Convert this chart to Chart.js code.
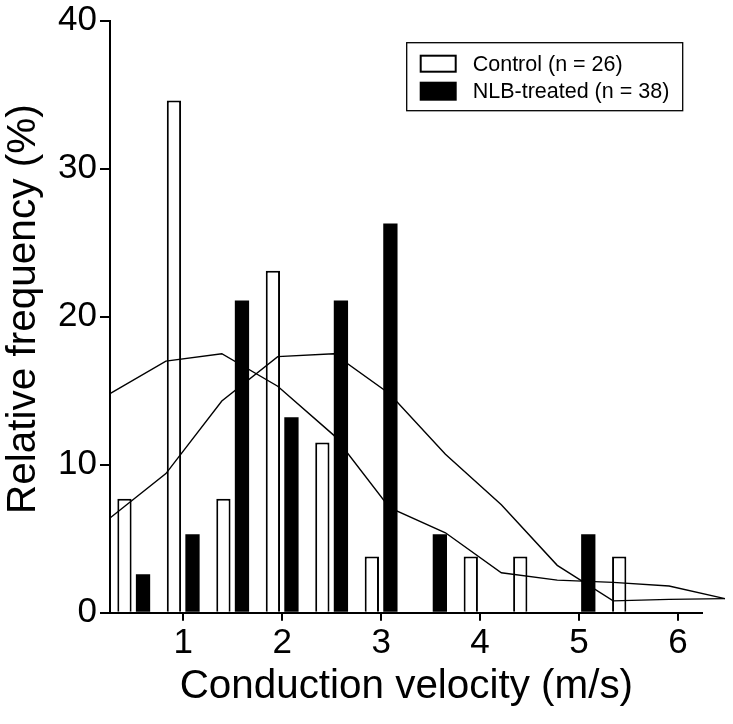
<!DOCTYPE html>
<html lang="en">
<head>
<meta charset="UTF-8">
<title>Conduction velocity distribution</title>
<script src="https://cdn.jsdelivr.net/npm/chart.js"></script>
<style>
  html, body { margin: 0; padding: 0; background: #fff; }
</style>
</head>
<body>
<canvas id="cvChart" width="733" height="724"></canvas>
<script>
// histogram bins (m/s, 0.5 m/s wide) and relative frequency (%)
const controlBins = [0.5, 1.0, 1.5, 2.0, 2.5, 3.0, 4.0, 4.5, 5.5];
const controlFreq = [7.7, 34.6, 7.7, 23.1, 11.5, 3.8, 3.8, 3.8, 3.8];
const nlbBins = [0.5, 1.0, 1.5, 2.0, 2.5, 3.0, 3.5, 5.0];
const nlbFreq = [2.6, 5.3, 21.1, 13.2, 21.1, 26.3, 5.3, 5.3];

// fitted curves
const curveX = [0.26, 0.825, 1.39, 1.955, 2.52, 3.085, 3.65, 4.215, 4.78, 5.345, 5.91, 6.475];
const controlCurve = [14.8, 17.0, 17.5, 15.3, 12.0, 7.1, 5.4, 2.7, 2.2, 2.05, 1.8, 0.95];
const nlbCurve = [6.4, 9.4, 14.3, 17.3, 17.5, 14.8, 10.7, 7.3, 3.2, 0.8, 0.9, 0.95];

const xTicks = [1, 2, 3, 4, 5, 6];
const yTicks = [0, 10, 20, 30, 40];

const labels = ['Control (n = 26)', 'NLB-treated (n = 38)'];
const xTitle = 'Conduction velocity (m/s)';
const yTitle = 'Relative frequency (%)';

const FONT = '"Liberation Sans", Arial, sans-serif';

const pts = (xs, ys) => xs.map((x, i) => ({ x: x, y: ys[i] }));

// legend in a framed box, top right of the plot
const boxLegend = {
    id: 'boxLegend',
    afterDraw(chart) {
        const ctx = chart.ctx;
        const area = chart.chartArea;
        const w = 276, h = 68;
        const left = area.right - 19 - w, top = area.top + 22;
        ctx.save();
        ctx.lineWidth = 1.3;
        ctx.strokeStyle = '#000';
        ctx.strokeRect(left, top, w, h);
        ctx.font = '21.5px ' + FONT;
        ctx.textBaseline = 'middle';
        const bars = chart.data.datasets.filter(d => d.type === 'bar');
        bars.forEach((d, i) => {
            const sy = top + 12 + i * 27;
            if (d.backgroundColor === '#000') {
                ctx.fillStyle = '#000';
                ctx.fillRect(left + 13, sy, 37, 19);
            } else {
                ctx.fillStyle = '#fff';
                ctx.fillRect(left + 13, sy, 37, 18);
                ctx.lineWidth = 2;
                ctx.strokeRect(left + 14, sy + 1, 35, 16);
            }
            ctx.fillStyle = '#000';
            ctx.fillText(d.label, left + 66, sy + 10);
        });
        ctx.restore();
    }
};

// axis titles placed by hand (y title sits a little above the axis centre)
const axisTitles = {
    id: 'axisTitles',
    afterDraw(chart) {
        const ctx = chart.ctx;
        const area = chart.chartArea;
        ctx.save();
        ctx.fillStyle = '#000';
        ctx.textAlign = 'center';
        ctx.textBaseline = 'alphabetic';
        ctx.font = '40.4px ' + FONT;
        ctx.fillText(xTitle, (area.left + area.right) / 2 + 0.5, area.bottom + 85.5);

        ctx.font = '40.5px ' + FONT;
        ctx.translate(35, (area.top + area.bottom) / 2 - 7.5);
        ctx.rotate(-Math.PI / 2);
        ctx.fillText(yTitle, 0, 0);
        ctx.restore();
    }
};

const tickFont = { family: FONT, size: 35 };

new Chart(document.getElementById('cvChart'), {
    type: 'bar',
    data: {
        datasets: [
            {
                type: 'line', label: 'control fit', data: pts(curveX, controlCurve),
                borderColor: '#000', borderWidth: 1.4, pointRadius: 0, tension: 0,
                clip: false, order: 0
            },
            {
                type: 'line', label: 'NLB fit', data: pts(curveX, nlbCurve),
                borderColor: '#000', borderWidth: 1.4, pointRadius: 0, tension: 0,
                clip: false, order: 0
            },
            {
                type: 'bar', label: labels[0], data: pts(controlBins, controlFreq),
                backgroundColor: '#fff', borderColor: '#000', borderWidth: 2,
                borderSkipped: 'bottom', categoryPercentage: 0.75, barPercentage: 0.77, order: 1
            },
            {
                type: 'bar', label: labels[1], data: pts(nlbBins, nlbFreq),
                backgroundColor: '#000', borderColor: '#000', borderWidth: 0,
                categoryPercentage: 0.75, barPercentage: 0.77, order: 1
            }
        ]
    },
    options: {
        responsive: false,
        animation: false,
        layout: { padding: { top: 20.7, right: 31.3, left: 0, bottom: 0 } },
        plugins: {
            legend: { display: false },
            tooltip: { enabled: false }
        },
        scales: {
            x: {
                type: 'linear',
                min: 0.26,
                max: 6.24,
                offset: false,
                grid: { offset: false, drawOnChartArea: false, tickLength: 8, color: '#000', lineWidth: 2 },
                border: { color: '#000', width: 2 },
                ticks: { color: '#000', font: tickFont, padding: 2, includeBounds: false },
                afterBuildTicks: s => { s.ticks = xTicks.map(v => ({ value: v })); },
                afterFit: s => { s.height = 111.3; s.paddingLeft = 0; s.paddingRight = 0; },
                title: { display: false }
            },
            y: {
                min: 0,
                max: 40,
                grid: { drawOnChartArea: false, tickLength: 10, color: '#000', lineWidth: 2 },
                border: { color: '#000', width: 2 },
                ticks: { color: '#000', font: tickFont, padding: 3 },
                afterBuildTicks: s => { s.ticks = yTicks.map(v => ({ value: v })); },
                afterFit: s => { s.width = 110; s.paddingTop = 0; s.paddingBottom = 0; },
                title: { display: false }
            }
        }
    },
    plugins: [boxLegend, axisTitles]
});
</script>
</body>
</html>
